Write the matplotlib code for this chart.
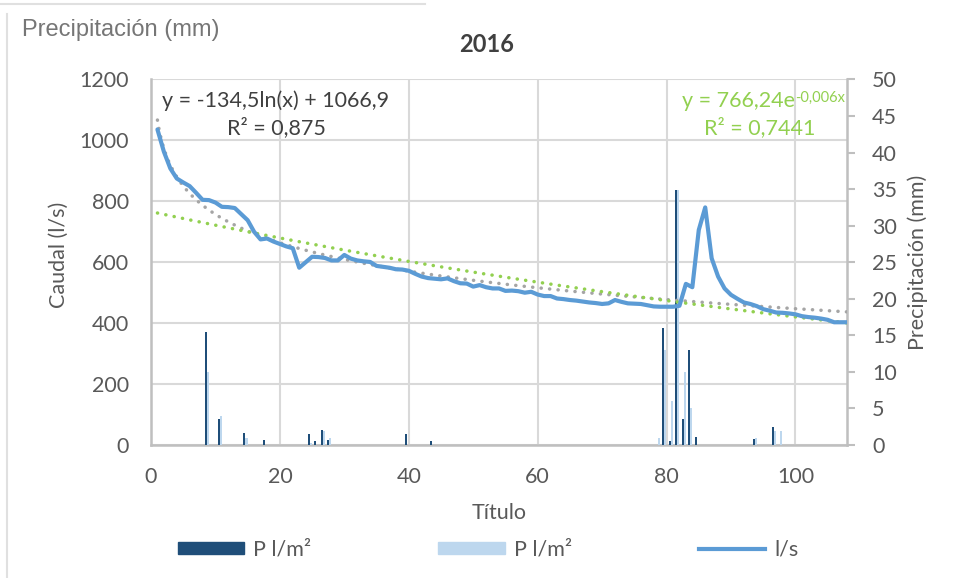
import matplotlib
matplotlib.use("Agg")
import matplotlib.pyplot as plt
import numpy as np
from matplotlib.patches import Patch
from matplotlib.lines import Line2D

# ---------------- data ----------------
days = list(range(1, 109))
caudal = [1036, 963, 908, 875, 862, 850, 828, 805, 804, 796,
          782, 781, 778, 758, 738, 700, 675, 678, 668, 660,
          652, 646, 582, 600, 618, 617, 614, 606, 606, 624,
          612, 606, 603, 601, 588, 585, 582, 577, 576, 572,
          562, 553, 548, 546, 544, 547, 538, 531, 530, 520,
          525, 518, 514, 514, 506, 507, 505, 500, 503, 494,
          489, 489, 481, 479, 476, 474, 471, 468, 466, 463,
          465, 476, 470, 465, 464, 463, 459, 455, 454, 454,
          454, 457, 529, 518, 706, 780, 613, 553, 514, 493,
          480, 468, 463, 456, 446, 441, 435, 434, 432, 429,
          423, 420, 418, 415, 411, 403, 403, 403]

rain_days = [9, 11, 15, 18, 25, 26, 27, 28, 40, 44,
             79, 80, 81, 82, 83, 84, 85, 94, 97, 98]
rain_dark = [15.4, 3.5, 1.7, 0.7, 1.5, 0.5, 2.0, 0.7, 1.5, 0.5,
             0.0, 16.0, 0.6, 34.9, 3.6, 13.0, 1.1, 0.8, 2.4, 0.0]
rain_light = [10.0, 4.0, 1.0, 0.0, 0.3, 0.0, 1.9, 1.0, 0.0, 0.0,
              1.0, 13.0, 6.0, 34.9, 10.0, 5.0, 0.0, 1.0, 1.9, 1.9]

x_ticks = [0, 20, 40, 60, 80, 100]
y_left_ticks = [0, 200, 400, 600, 800, 1000, 1200]
y_right_ticks = [0, 5, 10, 15, 20, 25, 30, 35, 40, 45, 50]

# trendline coefficients (as shown on the chart)
log_a, log_b = -134.5, 1066.9
exp_a, exp_k = 766.24, -0.006

# ---------------- style ----------------
FONT = ["Lato", "DejaVu Sans"]
plt.rcParams["font.family"] = FONT
FS = 15.5
TXT = "#595959"
GRID = "#D9D9D9"
AXC = "#BFBFBF"
DARK = "#1F4E79"
LIGHT = "#BDD7EE"
LINE = "#5B9BD5"
GRAYT = "#A5A5A5"
GREENT = "#92D050"

fig = plt.figure(figsize=(9.55, 5.78), dpi=100)
L, R, B, T = 151 / 955, 847 / 955, 1 - 445 / 578, 1 - 79.5 / 578
ax = fig.add_axes([L, B, R - L, T - B])
ax.set_xlim(0, 108)
ax.set_ylim(0, 1200)
ax.set_xticks(x_ticks)
ax.set_yticks(y_left_ticks)
ax.grid(True, color=GRID, lw=1.5)
ax.set_axisbelow(True)
for s in ["top", "right"]:
    ax.spines[s].set_visible(False)
for s in ["left", "bottom"]:
    ax.spines[s].set_color(AXC)
    ax.spines[s].set_linewidth(1.8)
ax.tick_params(axis="both", length=0, labelsize=FS, labelcolor=TXT)
ax.tick_params(axis="y", pad=16)
ax.tick_params(axis="x", pad=16)

# bars on secondary axis
ax2 = ax.twinx()
ax2.set_ylim(0, 50)
ax2.set_yticks(y_right_ticks)
for s in ["top", "left", "bottom"]:
    ax2.spines[s].set_visible(False)
ax2.spines["right"].set_color(AXC)
ax2.spines["right"].set_linewidth(1.8)
ax2.tick_params(axis="y", length=6, width=1.5, color=AXC, direction="out",
                labelsize=FS, labelcolor=TXT, pad=12)
rd = np.array(rain_days, dtype=float)
ax2.bar(rd - 0.5, rain_dark, width=0.32, color=DARK, zorder=2)
ax2.bar(rd - 0.18, rain_light, width=0.32, color=LIGHT, zorder=2)

# lines on top
ax3 = ax.twinx()
ax3.set_ylim(0, 1200)
ax3.axis("off")
xs = np.linspace(1, 108, 500)
ax3.plot(xs, log_a * np.log(xs) + log_b, color=GRAYT, lw=2.5,
         linestyle=(0, (0.05, 2.4)), dash_capstyle="round")
ax3.plot(xs, exp_a * np.exp(exp_k * xs), color=GREENT, lw=2.5,
         linestyle=(0, (0.05, 2.4)), dash_capstyle="round")
ax3.plot(days, caudal, color=LINE, lw=3.0, solid_joinstyle="round",
         solid_capstyle="round")

# equations
fig.text(276 / 955, 1 - 101 / 578, "y = -134,5ln(x) + 1066,9", ha="center",
         va="center", fontsize=FS, color="#404040")
fig.text(276 / 955, 1 - 128 / 578, "R² = 0,875", ha="center", va="center",
         fontsize=FS, color="#404040")
t_exp = fig.text(682 / 955, 1 - 101 / 578, "y = 766,24e", ha="left",
                 va="center", fontsize=FS, color=GREENT)
ax3.annotate("-0,006x", xy=(1.0, 1.0), xycoords=t_exp, ha="left", va="top",
             fontsize=10.5, color=GREENT, annotation_clip=False)
fig.text(760 / 955, 1 - 128 / 578, "R² = 0,7441", ha="center", va="center",
         fontsize=FS, color=GREENT)

# titles / labels
fig.text(487 / 955, 1 - 45 / 578, "2016", ha="center", va="center",
         fontsize=17, fontweight="bold", color="#404040")
fig.text(22 / 955, 1 - 30 / 578, "Precipitación (mm)", ha="left", va="center",
         fontsize=17, color="#767676", family=["Liberation Sans", "DejaVu Sans"])
fig.text(499 / 955, 1 - 513 / 578, "Título", ha="center", va="center",
         fontsize=FS, color=TXT)
fig.text(59 / 955, 1 - 255 / 578, "Caudal (l/s)", ha="center", va="center",
         rotation=90, fontsize=FS, color=TXT)
fig.text(918 / 955, 1 - 262 / 578, "Precipitación (mm)", ha="center",
         va="center", rotation=90, fontsize=FS, color=TXT)

# faint outer frame pieces
fig.add_artist(Line2D([7 / 955, 7 / 955], [0, 1 - 14 / 578], color="#E0E0E0",
                      lw=1.5, transform=fig.transFigure))
fig.add_artist(Line2D([0, 425 / 955], [1 - 4 / 578, 1 - 4 / 578], color="#E0E0E0",
                      lw=1.5, transform=fig.transFigure))

# legend
handles = [Patch(color=DARK), Patch(color=LIGHT),
           Line2D([], [], color=LINE, lw=3.0)]
fig.legend(handles, ["P l/m²", "P l/m²", "l/s"], ncol=3, loc="center",
           bbox_to_anchor=(488 / 955, 1 - 550 / 578), frameon=False,
           fontsize=FS, labelcolor=TXT, handlelength=3.1, handleheight=0.5,
           handletextpad=0.4, columnspacing=5.9)

fig.savefig("out.png", dpi=100)
